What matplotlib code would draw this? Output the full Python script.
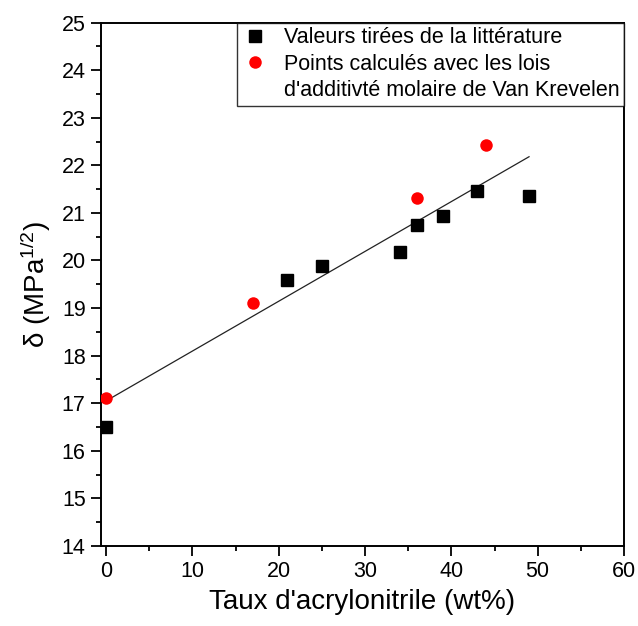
import matplotlib
matplotlib.use('Agg')
import matplotlib.pyplot as plt
from matplotlib.lines import Line2D

plt.rcParams['font.family'] = ['Liberation Sans', 'DejaVu Sans']
plt.rcParams['mathtext.fontset'] = 'custom'
plt.rcParams['mathtext.rm'] = 'Liberation Sans'
plt.rcParams['mathtext.it'] = 'Liberation Sans'

# literature values
lit_x = [0, 21, 25, 34, 36, 39, 43, 49]
lit_y = [16.5, 19.59, 19.89, 20.18, 20.75, 20.93, 21.46, 21.36]

# Van Krevelen computed points
calc_x = [0, 17, 36, 44]
calc_y = [17.1, 19.1, 21.32, 22.42]

# fitted line (end points)
fit_x = [0, 49]
fit_y = [17.05, 22.18]

x_ticks = [0, 10, 20, 30, 40, 50, 60]
y_ticks = [14, 15, 16, 17, 18, 19, 20, 21, 22, 23, 24, 25]

fig = plt.figure(figsize=(6.38, 6.26), dpi=100)
ax = fig.add_axes([0.1583, 0.1278, 0.8197, 0.8362])

ax.plot(fit_x, fit_y, color='#222222', lw=0.9, zorder=2)
ax.plot(lit_x, lit_y, 's', color='black', ms=8, zorder=3)
ax.plot(calc_x, calc_y, 'o', color='#ff0000', ms=9, mec='none', zorder=3)

ax.set_xlim(-0.6, 60)
ax.set_ylim(14, 25)
ax.set_xticks(x_ticks)
ax.set_yticks(y_ticks)
ax.set_xticks([5, 15, 25, 35, 45, 55], minor=True)
ax.set_yticks([y + 0.5 for y in y_ticks[:-1]], minor=True)

for s in ax.spines.values():
    s.set_linewidth(1.4)
ax.tick_params(which='major', direction='out', length=7, width=1.3,
               labelsize=15.5, pad=4)
ax.tick_params(which='minor', direction='out', length=3.5, width=1.3)

ax.set_xlabel("Taux d'acrylonitrile (wt%)", fontsize=20, labelpad=5)
ax.set_ylabel(r'δ (MPa$^{1/2}$)', fontsize=20, labelpad=6)

handles = [
    Line2D([], [], marker='s', color='black', ls='none', ms=8),
    Line2D([], [], marker='o', color='#ff0000', mec='none', ls='none', ms=9),
    Line2D([], [], ls='none'),
]
labels = ['Valeurs tirées de la littérature',
          'Points calculés avec les lois',
          "d'additivté molaire de Van Krevelen"]
leg = ax.legend(handles, labels, loc='upper right', fontsize=15.5,
                frameon=True, fancybox=False, borderaxespad=0,
                handlelength=1.2, handletextpad=0.75, labelspacing=0.25,
                borderpad=0.22)
leg.get_frame().set_edgecolor('black')
leg.get_frame().set_linewidth(1.0)

fig.savefig('out.png', dpi=100)
